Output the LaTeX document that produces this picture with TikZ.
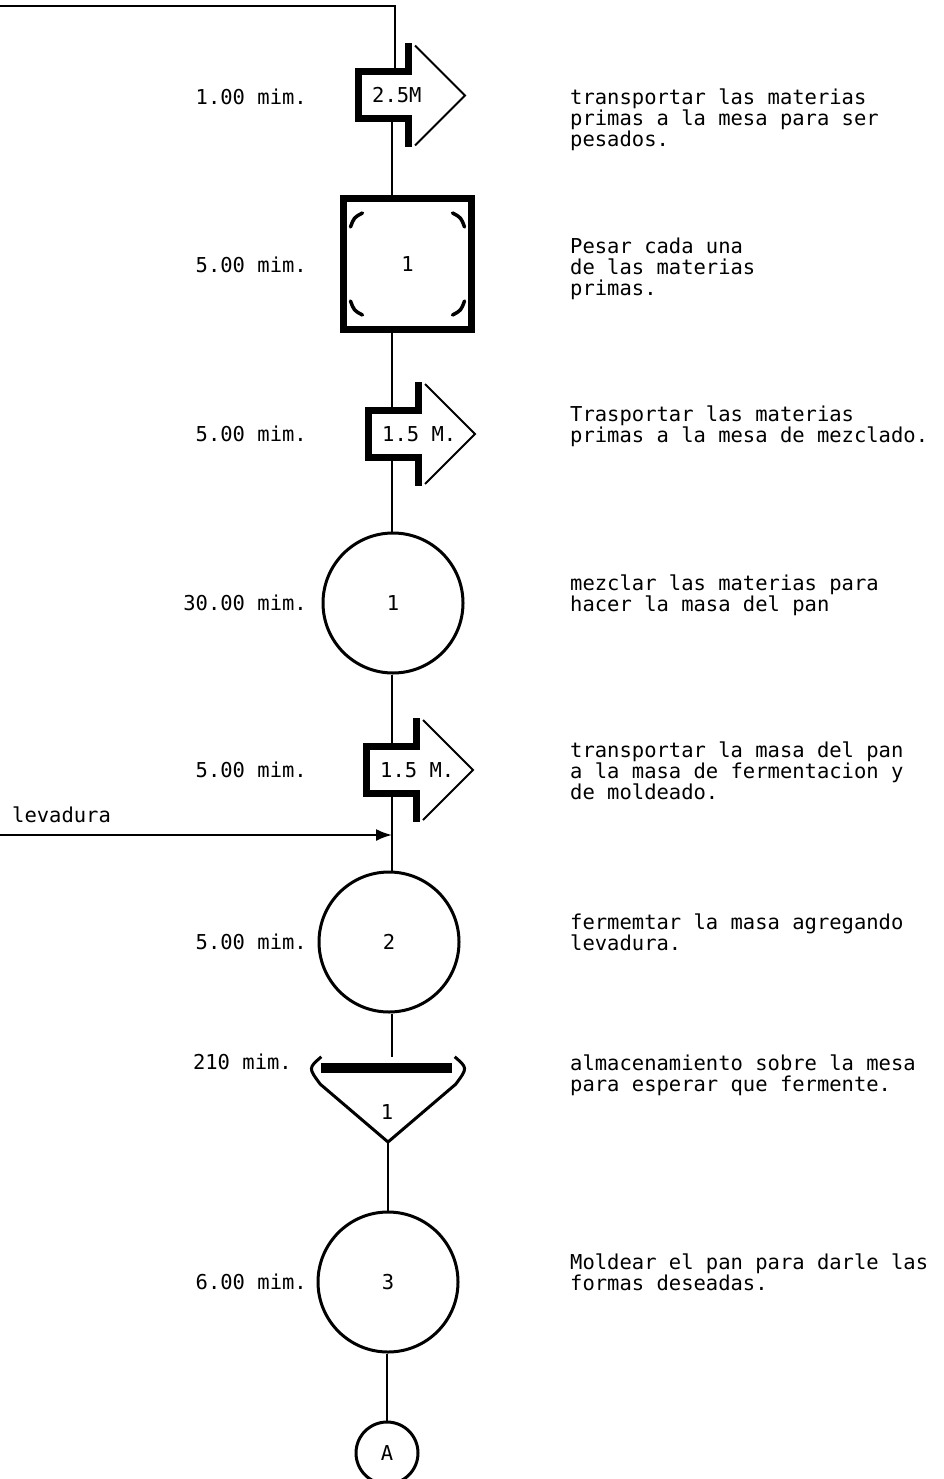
\documentclass[tikz,border=0pt]{standalone}
\usepackage{fontspec}
\setmonofont{DejaVu Sans Mono}
\usetikzlibrary{arrows.meta, calc}
\newcommand{\letra}{\ttfamily\fontsize{20.5}{21}\selectfont}
\tikzset{
    linea/.style={line width=2pt},
    gruesa/.style={line width=7pt, line join=miter},
    texto/.style={font=\letra, inner sep=0pt},
    transp/.style={texto, anchor=west, minimum height=47pt},
    operacion/.style={texto, draw, circle, line width=3pt, minimum size=140pt},
    inspeccion/.style={texto, draw, rectangle, line width=7pt, minimum width=128pt, minimum height=131pt},
    almacen/.style={texto, rectangle, minimum width=143pt, minimum height=22pt},
    conector/.style={texto, draw, circle, line width=3pt, minimum size=62pt},
    tiempo/.style={texto, anchor=east},
    descripcion/.style={texto, anchor=north west, align=left},
    marca/.style={line width=3.5pt, line cap=round},
    entrada/.style={line width=2pt, -{Latex[length=16pt, width=12pt]}},
}
% flecha de transporte alrededor del nodo #1
\newcommand{\transporte}[1]{%
    \draw[gruesa] ($(#1.west)+(36,52)$) -- ($(#1.west)+(36,23.5)$) -- ($(#1.west)+(-14,23.5)$)
        -- ($(#1.west)+(-14,-23.5)$) -- ($(#1.west)+(36,-23.5)$) -- ($(#1.west)+(36,-52)$);
    \draw[linea] ($(#1.west)+(43,50)$) -- ($(#1.west)+(93,0)$) -- ($(#1.west)+(43,-50)$);
}

\begin{document}
\begin{tikzpicture}[x=1pt, y=1pt]
    \useasboundingbox (0,0) rectangle (943,-1479);
    \coordinate (eje) at (392,0);
    \coordinate (inicio) at (0,-6);
    \coordinate (esquina) at (395,-6);

    % Transporte a la mesa
    \node[transp] (t1) at (372,-95.5) {2.5M};
    \transporte{t1}
    \node[tiempo] (h1) at (307,-97) {1.00 mim.};
    \node[descripcion] (d1) at (570,-88.5) {transportar las materias\\primas a la mesa para ser\\pesados.};

    % Pesado
    \node[inspeccion] (sq) at (407.5,-264) {1};
    \foreach \sx/\sy in {1/1, 1/-1, -1/1, -1/-1}
        \draw[marca, shift={(sq.center)}, xscale=\sx, yscale=\sy] (-57,37) .. controls (-53.5,46.5) .. (-45,51);
    \node[tiempo] (h2) at (307,-265) {5.00 mim.};
    \node[descripcion] (d2) at (570,-237.5) {Pesar cada una\\de las materias\\primas.};

    % Transporte a mezclado
    \node[transp] (t2) at (382,-434) {1.5 M.};
    \transporte{t2}
    \node[tiempo] (h3) at (307,-434) {5.00 mim.};
    \node[descripcion] (d3) at (570,-405.5) {Trasportar las materias\\primas a la mesa de mezclado.};

    % Mezclado
    \node[operacion] (op1) at (393,-603) {1};
    \node[tiempo] (h4) at (307,-603) {30.00 mim.};
    \node[descripcion] (d4) at (570,-574.5) {mezclar las materias para\\hacer la masa del pan};

    % Transporte a fermentacion
    \node[transp] (t3) at (380,-770) {1.5 M.};
    \transporte{t3}
    \node[tiempo] (h5) at (307,-770) {5.00 mim.};
    \node[descripcion] (d5) at (570,-741.5) {transportar la masa del pan\\a la masa de fermentacion y\\de moldeado.};

    % Entrada de levadura
    \node[texto, anchor=west] (lev) at (12,-815) {levadura};
    \coordinate (lev-ini) at (0,-835);

    % Fermentado
    \node[operacion] (op2) at (389,-942) {2};
    \node[tiempo] (h6) at (307,-942) {5.00 mim.};
    \node[descripcion] (d6) at (570,-913.5) {fermemtar la masa agregando\\levadura.};

    % Almacenamiento
    \node[almacen] (alm) at (388,-1068) {};
    \coordinate (alm-v) at (388,-1142);
    \draw[line width=10pt] (alm.west) ++(5,0) -- ($(alm.east)+(-8,0)$);
    \draw[line width=3pt, line join=round] ($(alm.north west)+(5,0)$) .. controls ($(alm.west)+(-8,0)$) .. ($(alm.south west)+(4,-5)$)
        -- (alm-v) -- ($(alm.south east)+(-4,-5)$) .. controls ($(alm.east)+(8,0)$) .. ($(alm.north east)+(-5,0)$);
    \node[texto] (alm-n) at (387,-1112) {1};
    \node[tiempo] (h7) at (292,-1062) {210 mim.};
    \node[descripcion] (d7) at (570,-1054.5) {almacenamiento sobre la mesa\\para esperar que fermente.};

    % Moldeado
    \node[operacion] (op3) at (388,-1282) {3};
    \node[tiempo] (h8) at (307,-1282) {6.00 mim.};
    \node[descripcion] (d8) at (570,-1253.5) {Moldear el pan para darle las\\formas deseadas.};

    % Conector de salida
    \node[conector] (cA) at (387,-1453) {A};

    % Lineas del flujo
    \draw[linea] (inicio) -- (esquina) -- (t1.north -| esquina);
    \draw[linea] (t1.south -| eje) -- (sq.north -| eje);
    \draw[linea] (sq.south -| eje) -- (t2.north -| eje);
    \draw[linea] (t2.south -| eje) -- (op1.north -| eje);
    \draw[linea] (op1.south -| eje) -- (t3.north -| eje);
    \draw[linea] (t3.south -| eje) -- (op2.north -| eje);
    \draw[linea] (op2.south -| eje) -- (alm.north -| eje);
    \draw[linea] (alm-v) -- (op3.north -| alm-v);
    \draw[linea] (op3.south -| cA) -- (cA.north);
    \draw[entrada] (lev-ini) -- (lev-ini -| eje);
\end{tikzpicture}
\end{document}
